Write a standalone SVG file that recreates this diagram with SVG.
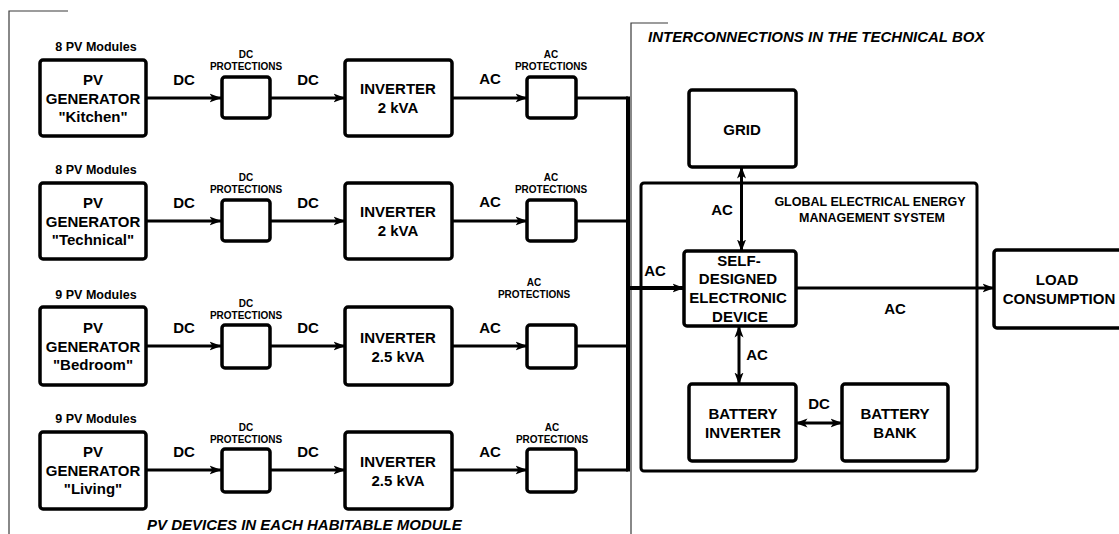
<svg xmlns="http://www.w3.org/2000/svg" width="1119" height="534" viewBox="0 0 1119 534">
<defs>
<marker id="ah" viewBox="0 0 12 10" refX="11.5" refY="5" markerWidth="12" markerHeight="10" markerUnits="userSpaceOnUse" orient="auto-start-reverse">
<path d="M0,0.5 L12,5 L0,9.5 L3,5 Z" fill="#000"/>
</marker>
</defs>
<style>
.box{fill:#fff;stroke:#000;stroke-width:3.5}
.frame{fill:none;stroke:#3a3a3a;stroke-width:1.2}
.ln{fill:none;stroke:#000;stroke-width:3}
.t{font-family:"Liberation Sans",Arial,sans-serif;font-weight:bold;fill:#000;text-anchor:middle}
.b{font-size:15px}
.m{font-size:12.5px}
.s{font-size:10px}
.it{font-style:italic;font-size:15px;text-anchor:start}
</style>
<rect width="1119" height="534" fill="#fff"/>
<g id="frames">
<path class="frame" d="M68,11 H9 V534"/>
<path class="frame" d="M668,23 H631 V534"/>
<text class="t it" x="147" y="530">PV DEVICES IN EACH HABITABLE MODULE</text>
<text class="t it" x="648" y="42">INTERCONNECTIONS IN THE TECHNICAL BOX</text>
</g>
<g id="connectors">
<g marker-end="url(#ah)">
<path class="ln" d="M146,98 H221"/><path class="ln" d="M270,98 H345"/><path class="ln" d="M452,98 H527"/>
<path class="ln" d="M146,221 H221"/><path class="ln" d="M270,221 H345"/><path class="ln" d="M452,221 H527"/>
<path class="ln" d="M146,346 H221"/><path class="ln" d="M270,346 H345"/><path class="ln" d="M452,346 H527"/>
<path class="ln" d="M146,470 H221"/><path class="ln" d="M270,470 H345"/><path class="ln" d="M452,470 H527"/>
<path class="ln" style="stroke-width:4" d="M628,288 H684"/>
<path class="ln" d="M796,288 H994"/>
</g>
<path class="ln" d="M576,98 H628 M576,221 H628 M576,346 H628 M576,470 H628"/>
<path class="ln" style="stroke-width:4" d="M628,96.5 V471.5"/>
<g marker-start="url(#ah)" marker-end="url(#ah)">
<path class="ln" d="M741.5,167 V251"/>
<path class="ln" d="M739,326 V384"/>
<path class="ln" d="M796,423 H842"/>
</g>
</g>
<g id="labels" class="t b">
<text x="184" y="85">DC</text><text x="308" y="85">DC</text><text x="490" y="84">AC</text>
<text x="184" y="208">DC</text><text x="308" y="208">DC</text><text x="490" y="207">AC</text>
<text x="184" y="333">DC</text><text x="308" y="333">DC</text><text x="490" y="333">AC</text>
<text x="184" y="457">DC</text><text x="308" y="457">DC</text><text x="490" y="457">AC</text>
<text x="722" y="215">AC</text>
<text x="655" y="276">AC</text>
<text x="895" y="314">AC</text>
<text x="757" y="360">AC</text>
<text x="819" y="409">DC</text>
</g>
<g id="row1">
<text class="t m" x="96" y="51">8 PV Modules</text>
<rect class="box" x="40" y="60" width="106" height="76" rx="3"/>
<text class="t b" x="93" y="85">PV</text><text class="t b" x="93" y="104">GENERATOR</text><text class="t b" x="93" y="122">"Kitchen"</text>
<text class="t s" x="246" y="58">DC</text><text class="t s" x="246" y="70">PROTECTIONS</text>
<rect class="box" x="222" y="77" width="48" height="41" rx="3"/>
<rect class="box" x="345" y="60" width="107" height="76" rx="3"/>
<text class="t b" x="398" y="94">INVERTER</text><text class="t b" x="398" y="113">2 kVA</text>
<text class="t s" x="551" y="58">AC</text><text class="t s" x="551" y="70">PROTECTIONS</text>
<rect class="box" x="527" y="77" width="49" height="41" rx="3"/>
</g>
<g id="row2">
<text class="t m" x="96" y="174">8 PV Modules</text>
<rect class="box" x="40" y="183" width="106" height="76" rx="3"/>
<text class="t b" x="93" y="208">PV</text><text class="t b" x="93" y="227">GENERATOR</text><text class="t b" x="93" y="245">"Technical"</text>
<text class="t s" x="246" y="181">DC</text><text class="t s" x="246" y="193">PROTECTIONS</text>
<rect class="box" x="222" y="200" width="48" height="41" rx="3"/>
<rect class="box" x="345" y="183" width="107" height="76" rx="3"/>
<text class="t b" x="398" y="217">INVERTER</text><text class="t b" x="398" y="236">2 kVA</text>
<text class="t s" x="551" y="181">AC</text><text class="t s" x="551" y="193">PROTECTIONS</text>
<rect class="box" x="527" y="200" width="49" height="41" rx="3"/>
</g>
<g id="row3">
<text class="t m" x="96" y="299">9 PV Modules</text>
<rect class="box" x="40" y="307" width="106" height="78" rx="3"/>
<text class="t b" x="93" y="333">PV</text><text class="t b" x="93" y="352">GENERATOR</text><text class="t b" x="93" y="370">"Bedroom"</text>
<text class="t s" x="246" y="307">DC</text><text class="t s" x="246" y="319">PROTECTIONS</text>
<rect class="box" x="222" y="325" width="48" height="43" rx="3"/>
<rect class="box" x="345" y="307" width="107" height="78" rx="3"/>
<text class="t b" x="398" y="343">INVERTER</text><text class="t b" x="398" y="362">2.5 kVA</text>
<text class="t s" x="534" y="286">AC</text><text class="t s" x="534" y="298">PROTECTIONS</text>
<rect class="box" x="527" y="325" width="49" height="43" rx="3"/>
</g>
<g id="row4">
<text class="t m" x="96" y="423">9 PV Modules</text>
<rect class="box" x="40" y="432" width="106" height="77" rx="3"/>
<text class="t b" x="93" y="457">PV</text><text class="t b" x="93" y="476">GENERATOR</text><text class="t b" x="93" y="494">"Living"</text>
<text class="t s" x="246" y="431">DC</text><text class="t s" x="246" y="443">PROTECTIONS</text>
<rect class="box" x="222" y="449" width="48" height="43" rx="3"/>
<rect class="box" x="345" y="432" width="107" height="77" rx="3"/>
<text class="t b" x="398" y="467">INVERTER</text><text class="t b" x="398" y="486">2.5 kVA</text>
<text class="t s" x="552" y="431">AC</text><text class="t s" x="552" y="443">PROTECTIONS</text>
<rect class="box" x="527" y="449" width="49" height="43" rx="3"/>
</g>
<g id="ems">
<rect class="box" style="fill:none;stroke-width:3" x="641" y="183" width="336" height="288" rx="3"/>
<text class="t m" x="870" y="206">GLOBAL ELECTRICAL ENERGY</text>
<text class="t m" x="872" y="222">MANAGEMENT SYSTEM</text>
</g>
<g id="grid">
<rect class="box" x="689" y="90" width="107" height="77" rx="3"/>
<text class="t b" x="742" y="135">GRID</text>
</g>
<g id="self">
<rect class="box" x="684" y="251" width="112" height="75" rx="3"/>
<text class="t b" x="739" y="266">SELF-</text>
<text class="t b" x="738" y="284">DESIGNED</text>
<text class="t b" x="738" y="303">ELECTRONIC</text>
<text class="t b" x="740" y="322">DEVICE</text>
</g>
<g id="load">
<rect class="box" x="994" y="250" width="135" height="78" rx="3"/>
<text class="t b" x="1057" y="285">LOAD</text>
<text class="t b" x="1059" y="304">CONSUMPTION</text>
</g>
<g id="batinv">
<rect class="box" x="689" y="384" width="107" height="77" rx="3"/>
<text class="t b" x="743" y="419">BATTERY</text>
<text class="t b" x="743" y="438">INVERTER</text>
</g>
<g id="batbank">
<rect class="box" x="842" y="384" width="106" height="77" rx="3"/>
<text class="t b" x="895" y="419">BATTERY</text>
<text class="t b" x="895" y="438">BANK</text>
</g>
</svg>
